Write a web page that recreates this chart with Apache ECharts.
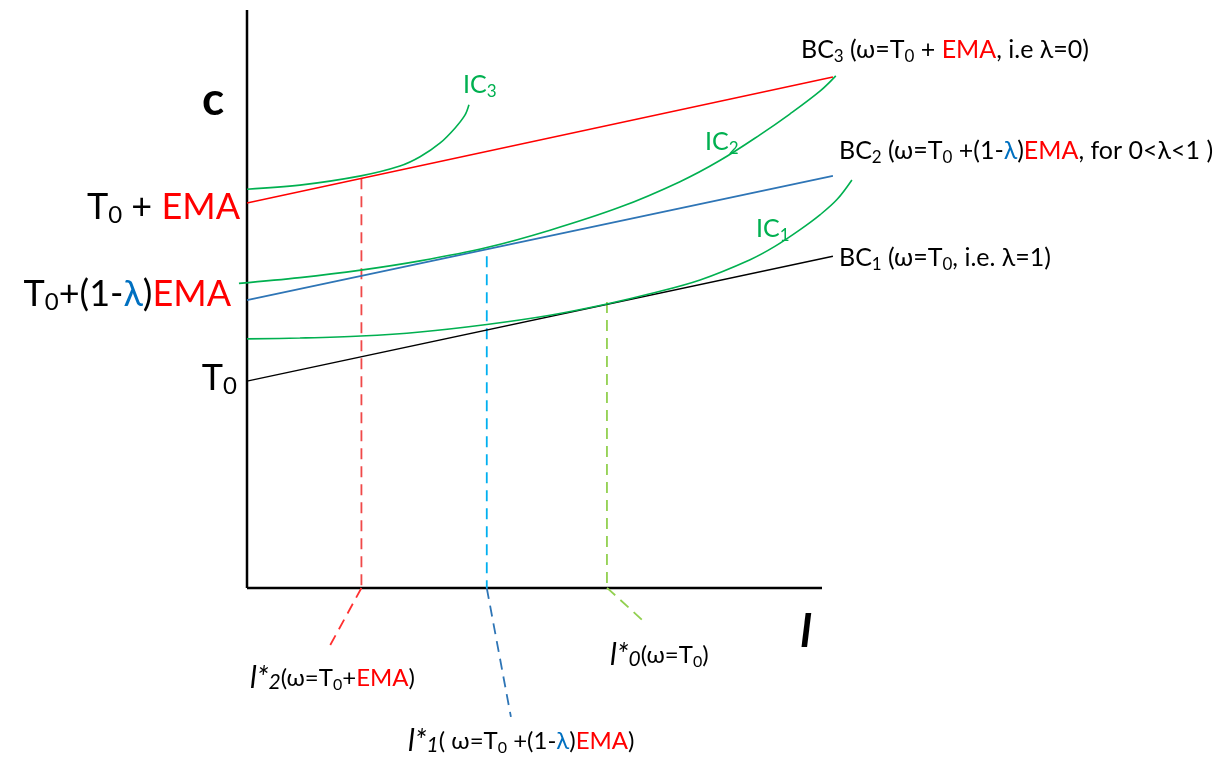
<!DOCTYPE html>
<html>
<head>
<meta charset="utf-8">
<script src="https://cdn.jsdelivr.net/npm/echarts@6/dist/echarts.min.js"></script>
<style>
html,body{margin:0;padding:0;background:#fff;}
#chart{width:1232px;height:757px;}
</style>
</head>
<body>
<div id="chart"></div>
<script>
// ---- data (l on x, c on y; arbitrary units, axes drawn from 0 to 100) ----
const xAxisLine = [[0, 0], [100, 0]];
const yAxisLine = [[0, 0], [0, 100]];

const bc1 = [[0, 35.8], [101.9, 57.4]];
const bc2 = [[0, 49.8], [101.9, 71.3]];
const bc3 = [[0, 66.6], [101.9, 88.4]];

const ic1 = [[0, 43.1], [9.2, 43.25], [19.8, 43.6], [30.1, 44.3], [41.7, 45.6], [52.7, 47.2],
             [62.4, 49.1], [70.1, 50.9], [78.8, 53.3], [87.5, 56.8], [91.8, 59.1], [96.2, 62.0],
             [99.7, 64.6], [102.6, 67.2], [105.2, 70.6]];
const ic2 = [[-1.4, 52.7], [9.2, 53.7], [19.8, 55.0], [30.1, 56.6], [41.7, 58.9], [52.7, 61.9],
             [64.9, 65.9], [75.3, 70.3], [82.3, 74.0], [89.2, 78.4], [94.4, 82.0], [99.7, 86.0],
             [102.4, 88.6]];
const ic3 = [[0, 69.0], [9.2, 69.7], [19.8, 71.3], [26.6, 73.0], [30.1, 74.6], [33.6, 77.0],
             [36.2, 79.6], [37.9, 81.8], [38.6, 83.6]];

// optimum l* drop lines and leaders to their labels
const drop2 = [[19.9, 70.9], [19.9, 0]];
const lead2 = [[19.9, 0], [14.3, -10.2]];
const drop1 = [[41.7, 57.4], [41.7, 0]];
const lead1 = [[41.7, 0], [45.9, -22.3]];
const drop0 = [[62.6, 49.5], [62.6, 0]];
const lead0 = [[62.6, 0], [63.1, -0.4], [68.7, -5.5]];

const FONT = 'Lato, "Noto Sans", "DejaVu Sans", sans-serif';
const RED = '#ff0000', BLUE_T = '#0070c0', GREEN = '#00b050';

function lineSeries(data, color, width, opts) {
  return Object.assign({
    type: 'line', data: data, symbol: 'none', clip: false, silent: true,
    lineStyle: { color: color, width: width }
  }, opts || {});
}
function dashSeries(data, color) {
  return lineSeries(data, color, 1.8, { lineStyle: { color: color, width: 1.8, type: [11, 7] } });
}
function curveSeries(data) {
  return lineSeries(data, GREEN, 1.6, { smooth: 0.35 });
}

function richSet(size, subSize, lh, subLh, lSize, lSub) {
  const base = { fontFamily: FONT, fontSize: size, lineHeight: lh, fill: '#000' };
  const sub = { fontFamily: FONT, fontSize: subSize, lineHeight: subLh, verticalAlign: 'bottom', fill: '#000' };
  return {
    n: Object.assign({}, base),
    r: Object.assign({}, base, { fill: RED }),
    b: Object.assign({}, base, { fill: BLUE_T }),
    g: Object.assign({}, base, { fill: GREEN }),
    s: Object.assign({}, sub),
    gs: Object.assign({}, sub, { fill: GREEN }),
    i: Object.assign({}, base, { fontStyle: 'italic', fontSize: lSize || size }),
    is: Object.assign({}, sub, { fontStyle: 'italic', fontSize: lSub || subSize })
  };
}
const richBig = richSet(36, 24, 40, 22);
const richMid = richSet(25, 17, 30, 16);
const richSmall = richSet(24, 16, 30, 16, 30, 21);

function txt(x, y, text, rich, align, valign) {
  return {
    type: 'text', x: x, y: y, silent: true,
    style: { text: text, rich: rich, align: align || 'left', verticalAlign: valign || 'middle', fontFamily: FONT }
  };
}

// axis extents chosen so 1 unit = 5.75px horizontally and 5.78px vertically
const chart = echarts.init(document.getElementById('chart'), null, { renderer: 'canvas' });
chart.setOption({
  animation: false,
  backgroundColor: '#fff',
  grid: { left: 235.5, top: 10, right: 375.5, bottom: 24.5 },
  xAxis: { type: 'value', min: -2, max: 106, show: false },
  yAxis: { type: 'value', min: -25, max: 100, show: false },
  series: [
    lineSeries(xAxisLine, '#000', 2.5),
    lineSeries(yAxisLine, '#000', 2.5),
    dashSeries(drop2, '#f04848'),
    dashSeries(lead2, '#ff3030'),
    dashSeries(drop1, '#00b0f0'),
    dashSeries(lead1, '#2e75b6'),
    dashSeries(drop0, '#92d050'),
    dashSeries(lead0, '#92d050'),
    lineSeries(bc1, '#000000', 1.4),
    lineSeries(bc2, '#2e75b6', 1.6),
    lineSeries(bc3, '#ff0000', 1.4),
    curveSeries(ic1),
    curveSeries(ic2),
    curveSeries(ic3)
  ],
  graphic: [
    { type: 'text', x: 213, y: 100, silent: true,
      style: { text: 'c', font: 'bold 46px ' + FONT, fill: '#000', align: 'center', verticalAlign: 'middle' } },
    { type: 'text', x: 806, y: 655, silent: true,
      style: { text: 'l', font: 'italic bold 46px ' + FONT, fill: '#000', align: 'center', verticalAlign: 'bottom' } },
    txt(240, 207, '{n|T}{s|0}{n| + }{r|EMA}', richBig, 'right'),
    txt(231, 294, '{n|T}{s|0}{n|+(1-}{b|λ}{n|)}{r|EMA}', richBig, 'right'),
    txt(237, 378, '{n|T}{s|0}', richBig, 'right'),
    txt(801, 50, '{n|BC}{s|3}{n| (ω=T}{s|0}{n| + }{r|EMA}{n|, i.e λ=0)}', richMid),
    txt(839, 151, '{n|BC}{s|2}{n| (ω=T}{s|0}{n| +(1-}{b|λ}{n|)}{r|EMA}{n|, for 0<λ<1 )}', richMid),
    txt(839, 258, '{n|BC}{s|1}{n| (ω=T}{s|0}{n|, i.e. λ=1)}', richMid),
    txt(463, 85, '{g|IC}{gs|3}', richMid),
    txt(705, 142, '{g|IC}{gs|2}', richMid),
    txt(756, 229, '{g|IC}{gs|1}', richMid),
    txt(250, 678, '{i|l*}{is|2}{n|(ω=T}{s|0}{n|+}{r|EMA}{n|)}', richSmall),
    txt(408, 741, '{i|l*}{is|1}{n|( ω=T}{s|0}{n| +(1-}{b|λ}{n|)}{r|EMA}{n|)}', richSmall),
    txt(610, 655, '{i|l*}{is|0}{n|(ω=T}{s|0}{n|)}', richSmall)
  ]
});
</script>
</body>
</html>
